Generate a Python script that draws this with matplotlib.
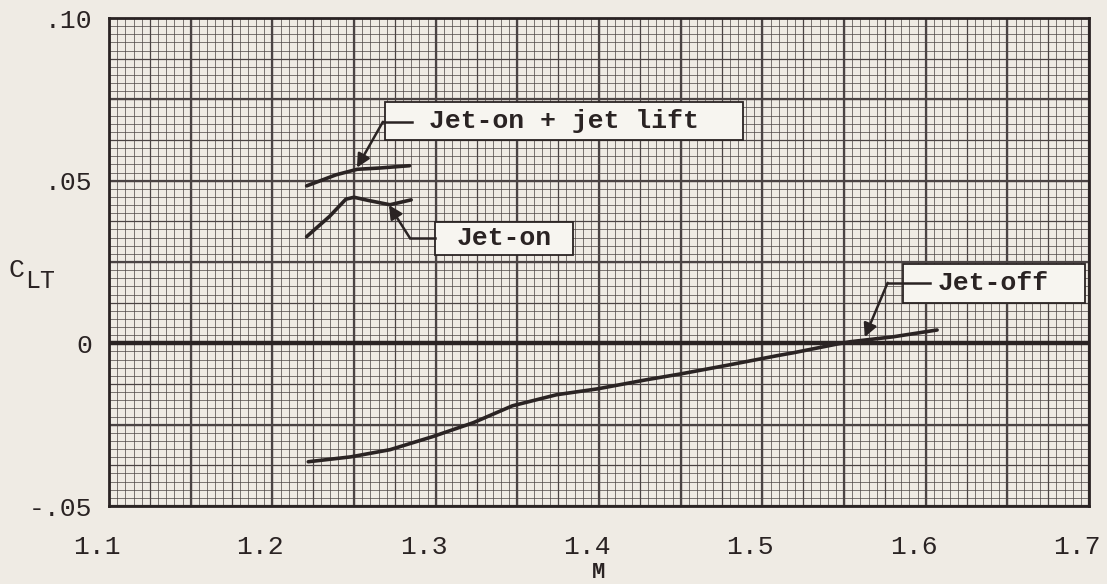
import numpy as np
import matplotlib.pyplot as plt
from matplotlib.patches import Rectangle
from matplotlib.transforms import ScaledTranslation

# Jet-off curve
mach_off = [1.222, 1.248, 1.272, 1.298, 1.323, 1.347, 1.374, 1.399, 1.429,
            1.450, 1.480, 1.509, 1.519, 1.546, 1.554, 1.580, 1.607]
cl_off = [-0.0364, -0.0349, -0.0327, -0.0287, -0.0244, -0.0192, -0.0158,
          -0.0140, -0.0112, -0.0094, -0.0066, -0.0038, -0.0029, -0.0002,
          0.0005, 0.0020, 0.0041]

# Jet-on curve
mach_on = [1.221, 1.235, 1.245, 1.250, 1.259, 1.272, 1.285]
cl_on = [0.0328, 0.0390, 0.0443, 0.0449, 0.0439, 0.0426, 0.0441]

# Jet-on + jet lift curve
mach_lift = [1.221, 1.239, 1.252, 1.266, 1.284]
cl_lift = [0.0484, 0.0518, 0.0535, 0.0539, 0.0546]

x_ticks = [1.1, 1.2, 1.3, 1.4, 1.5, 1.6, 1.7]
x_tick_labels = ['1.1', '1.2', '1.3', '1.4', '1.5', '1.6', '1.7']
y_ticks = [-0.05, 0.0, 0.05, 0.10]
y_tick_labels = ['-.05', '0', '.05', '.10']

PAPER = '#efebe4'
INK = '#2a2323'
GRID = '#4a4343'
TYPE = 'Liberation Mono'

plt.rcParams['font.family'] = [TYPE, 'DejaVu Sans']

fig = plt.figure(figsize=(11.07, 5.84), dpi=100, facecolor=PAPER)
ax = fig.add_axes([109 / 1107, 1 - 506 / 584, 980 / 1107, 488 / 584])
ax.set_facecolor(PAPER)
ax.set_xlim(1.1, 1.7)
ax.set_ylim(-0.05, 0.10)

# graph paper: fine, medium and heavy rulings
for n, lw in [(121, 0.5), (25, 0.9), (13, 1.6)]:
    ax.vlines(np.linspace(1.1, 1.7, n), -0.05, 0.10, color=GRID, lw=lw, zorder=1)
for n, lw in [(61, 0.5), (13, 0.9), (7, 1.6)]:
    ax.hlines(np.linspace(-0.05, 0.10, n), 1.1, 1.7, color=GRID, lw=lw, zorder=1)

ax.axhline(0, color=INK, lw=3.2, zorder=2)

for m, c in [(mach_off, cl_off), (mach_on, cl_on), (mach_lift, cl_lift)]:
    ax.plot(m, c, color=INK, lw=2.6, solid_capstyle='round',
            solid_joinstyle='round', zorder=3)


def label_box(x0, y0, x1, y1, text):
    ax.add_patch(Rectangle((x0, y0), x1 - x0, y1 - y0, facecolor='#f7f5f0',
                           edgecolor=INK, lw=1.3, zorder=4))
    ax.text((x0 + x1) / 2, (y0 + y1) / 2, text, ha='center', va='center',
            fontsize=19, fontweight='bold', color=INK, zorder=5)


def leader(elbow, end, tip):
    ax.plot([elbow[0], end], [elbow[1], elbow[1]], color=INK, lw=1.8, zorder=6)
    ax.annotate('', xy=tip, xytext=elbow, zorder=6,
                arrowprops=dict(arrowstyle='-|>', color=INK, lw=1.8,
                                mutation_scale=20, shrinkA=0, shrinkB=0))


label_box(1.269, 0.0626, 1.488, 0.0742, 'Jet-on + jet lift')
leader((1.2677, 0.0681), 1.2854, (1.2518, 0.0540))

label_box(1.2995, 0.0272, 1.384, 0.0374, 'Jet-on')
leader((1.2842, 0.0324), 1.2995, (1.2714, 0.0425))

label_box(1.5859, 0.0125, 1.6973, 0.0244, 'Jet-off')
leader((1.5767, 0.0186), 1.6024, (1.5627, 0.0019))

for s in ax.spines.values():
    s.set_color(INK)
    s.set_linewidth(2.0)
    s.set_zorder(7)

ax.set_xticks(x_ticks)
ax.set_xticklabels(x_tick_labels, fontsize=19, color=INK)
ax.set_yticks(y_ticks)
ax.set_yticklabels(y_tick_labels, fontsize=19, color=INK)
ax.tick_params(length=0)
ax.tick_params(axis='x', pad=21)
ax.tick_params(axis='y', pad=12)
shift = ScaledTranslation(-12 / 100, 0, fig.dpi_scale_trans)
for lab in ax.get_xticklabels():
    lab.set_transform(lab.get_transform() + shift)

ax.set_xlabel('M', fontsize=16, fontweight='bold', color=INK, labelpad=2)
fig.text(16 / 1107, 1 - 270 / 584, 'C', fontsize=19, color=INK,
         ha='center', va='center')
fig.text(40 / 1107, 1 - 281 / 584, 'LT', fontsize=18, color=INK,
         ha='center', va='center')

fig.savefig('out.png', dpi=100, facecolor=PAPER)
